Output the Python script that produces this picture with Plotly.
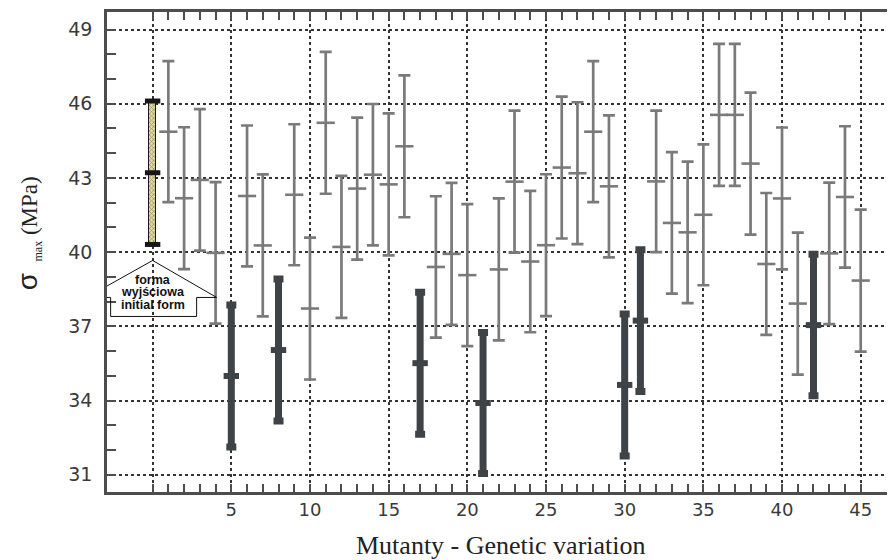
import plotly.graph_objects as go

# forma wyjsciowa (initial form)
x_init = [0]
mean_init = [43.21]
err_init = [2.90]

# mutanty bez istotnej roznicy (szare)
x_gray = [1, 2, 3, 4, 6, 7, 9, 10, 11, 12, 13, 14, 15, 16, 18, 19, 20, 22, 23,
          24, 25, 26, 27, 28, 29, 32, 33, 34, 35, 36, 37, 38, 39, 40, 41, 43, 44, 45]
mean_gray = [44.87, 42.18, 42.92, 39.97, 42.27, 40.27, 42.32, 37.72, 45.23, 40.21,
             42.57, 43.13, 42.74, 44.28, 39.40, 39.93, 39.07, 39.30, 42.85, 39.62,
             40.28, 43.42, 43.19, 44.87, 42.66, 42.86, 41.18, 40.80, 41.51, 45.55,
             45.55, 43.58, 39.52, 42.17, 37.92, 39.95, 42.23, 38.85]
err_gray = [2.85, 2.87, 2.86, 2.86, 2.85, 2.87, 2.85, 2.87, 2.87, 2.87,
            2.87, 2.86, 2.87, 2.87, 2.86, 2.87, 2.87, 2.87, 2.87, 2.86,
            2.87, 2.87, 2.87, 2.85, 2.87, 2.86, 2.86, 2.86, 2.85, 2.87,
            2.87, 2.87, 2.87, 2.87, 2.87, 2.86, 2.86, 2.87]

# mutanty istotnie slabsze (ciemne)
x_dark = [5, 8, 17, 21, 30, 31, 42]
mean_dark = [34.99, 36.04, 35.51, 33.90, 34.63, 37.23, 37.05]
err_dark = [2.87, 2.87, 2.87, 2.85, 2.87, 2.87, 2.86]

x_grid = [0, 5, 10, 15, 20, 25, 30, 35, 40, 45]
x_tick_labels = ["", "5", "10", "15", "20", "25", "30", "35", "40", "45"]
x_minor = [i for i in range(0, 46) if i % 5 != 0]
y_grid = [31, 34, 37, 40, 43, 46, 49]
y_tick_labels = ["31", "34", "37", "40", "43", "46", "49"]
y_minor = [i for i in range(31, 50) if (i - 31) % 3 != 0]

GRAY = "#7a7a7a"
DARK = "#3e4347"
AXIS = "#4d4d4d"

fig = go.Figure()

fig.add_trace(go.Scatter(
    x=x_gray, y=mean_gray, mode="markers",
    marker=dict(symbol="line-ew", size=13, line=dict(width=2.6, color=GRAY)),
    error_y=dict(type="data", array=err_gray, color=GRAY, thickness=2.7, width=6),
    showlegend=False, hoverinfo="skip"))

fig.add_trace(go.Scatter(
    x=x_dark, y=mean_dark, mode="markers",
    marker=dict(symbol="line-ew", size=11, line=dict(width=6, color=DARK)),
    error_y=dict(type="data", array=err_dark, color=DARK, thickness=7, width=5),
    showlegend=False, hoverinfo="skip"))

# forma wyjsciowa jako kreskowany slupek
low_init = [m - e for m, e in zip(mean_init, err_init)]
fig.add_trace(go.Bar(
    x=x_init, y=[2 * e for e in err_init], base=low_init, width=0.42,
    marker=dict(color="#e4dca0", line=dict(color="#1a1a1a", width=1),
                pattern=dict(shape="x", fgcolor="#3a3a2a", size=3, solidity=0.4)),
    showlegend=False, hoverinfo="skip"))
fig.add_trace(go.Scatter(
    x=x_init * 3, y=[mean_init[0] + err_init[0], mean_init[0], low_init[0]],
    mode="markers",
    marker=dict(symbol="line-ew", size=11, line=dict(width=5, color="#161616")),
    showlegend=False, hoverinfo="skip"))

# ramka "forma wyjsciowa" w ksztalcie domku (wspolrzedne w pikselach od dolu slupka)
house = "M 0,-16 L 64,-53 L 44,-53 L 44,-72 L -42,-72 L -42,-53 L -66,-53 Z"
fig.add_shape(type="path", path=house, xref="x", yref="y",
              xsizemode="pixel", ysizemode="pixel",
              xanchor=x_init[0], yanchor=low_init[0],
              line=dict(color="#111111", width=1), fillcolor="rgba(0,0,0,0)")
for txt, dy in [("forma", -35.5), ("wyjściowa", -48), ("initial form", -60.5)]:
    fig.add_annotation(x=x_init[0], y=low_init[0], xref="x", yref="y",
                       text="<b>" + txt + "</b>",
                       showarrow=False, yshift=dy, xanchor="center", yanchor="middle",
                       font=dict(family="Liberation Sans", size=12.5, color="#111111"))

fig.add_annotation(
    x=0, y=0.539, xref="paper", yref="paper", xshift=-79, textangle=-90,
    xanchor="center", yanchor="middle", showarrow=False,
    text='<span style="font-family:Liberation Sans;font-size:28px">σ</span>  '
         '<sub><span style="font-size:12px">max</span></sub> (MPa)',
    font=dict(family="Liberation Serif", size=23, color="#222222"))

fig.add_annotation(
    x=0.5, y=0, xref="paper", yref="paper", yshift=-53, showarrow=False,
    xanchor="center", yanchor="middle", text="Mutanty - Genetic variation",
    font=dict(family="Liberation Serif", size=26, color="#222222"))

grid = dict(showgrid=True, gridcolor="#333333", griddash="dot", gridwidth=2)

fig.update_xaxes(
    range=[-2.9, 47.18], tickmode="array", tickvals=x_grid, ticktext=x_tick_labels,
    ticks="inside", ticklen=8, tickwidth=2, tickcolor=AXIS,
    showline=True, linecolor=AXIS, linewidth=2.6, mirror="ticks", zeroline=False,
    minor=dict(tickmode="array", tickvals=x_minor, ticks="inside", ticklen=8,
               tickwidth=2, tickcolor=AXIS, showgrid=False),
    tickfont=dict(family="DejaVu Sans", size=18, color="#3a3a3a"),
    ticklabelstandoff=0, **grid)

fig.update_yaxes(
    range=[30.30, 49.71], tickmode="array", tickvals=y_grid, ticktext=y_tick_labels,
    ticks="inside", ticklen=9, tickwidth=2, tickcolor=AXIS,
    showline=True, linecolor=AXIS, linewidth=2.6, mirror=False, zeroline=False,
    minor=dict(tickmode="array", tickvals=y_minor, ticks="inside", ticklen=9,
               tickwidth=2, tickcolor=AXIS, showgrid=False),
    tickfont=dict(family="DejaVu Sans", size=19, color="#3a3a3a"),
    ticklabelstandoff=8, **grid)

# strona html ma 8 px marginesu, wiec figura jest o 8 px mniejsza
fig.update_layout(
    width=887, height=552, margin=dict(l=99, r=0, t=4, b=68),
    plot_bgcolor="white", paper_bgcolor="white", bargap=0)

fig.write_html("out.html")
